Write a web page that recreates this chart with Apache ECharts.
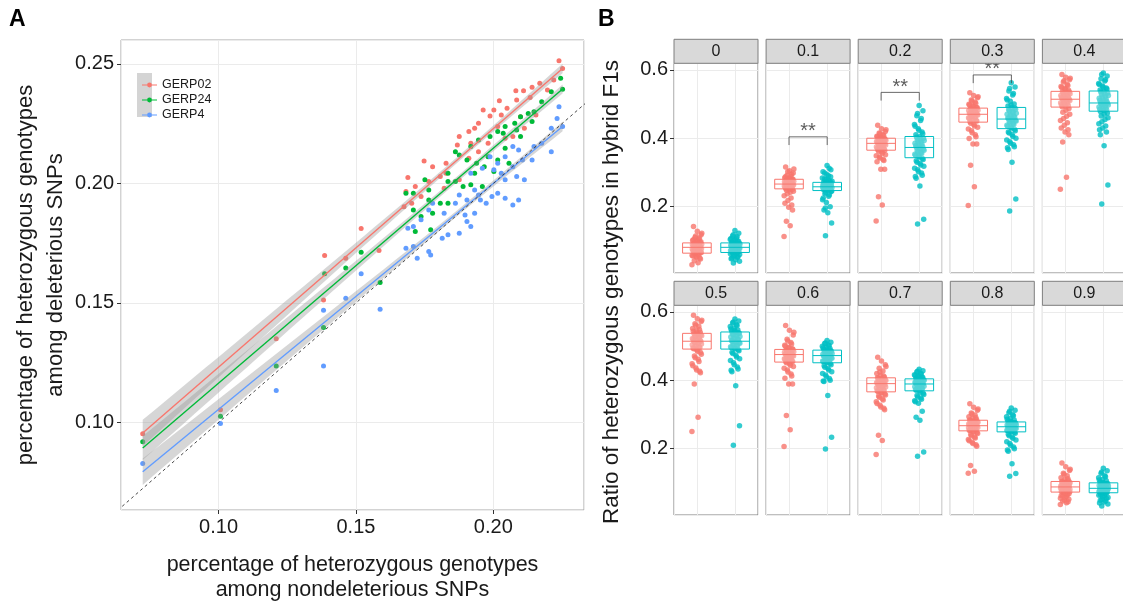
<!DOCTYPE html>
<html><head><meta charset="utf-8">
<script src="https://cdn.jsdelivr.net/npm/echarts@6/dist/echarts.min.js"></script>
<style>html,body{margin:0;padding:0;background:#fff}#c{width:1123px;height:604px}</style>
</head><body><div id="c"></div>
<script>
// ---------- Panel A data ----------
const gerpNames = ['GERP02', 'GERP24', 'GERP4'];
const gerpColors = ['#F8766D', '#00BA38', '#619CFF'];
const gerp02Points = [[0.2239,0.2513],[0.2252,0.2481],[0.2220,0.2433],[0.2169,0.2419],[0.2141,0.2402],[0.2110,0.2388],[0.2082,0.2388],[0.2134,0.2360],[0.2085,0.2349],[0.2022,0.2346],[0.2050,0.2314],[0.2002,0.2307],[0.1963,0.2307],[0.2029,0.2286],[0.1988,0.2282],[0.1946,0.2252],[0.1932,0.2231],[0.1911,0.2217],[0.1876,0.2196],[0.1869,0.2161],[0.1918,0.2168],[0.1981,0.2168],[0.2043,0.2189],[0.2099,0.2279],[0.2155,0.2286],[0.2197,0.2391],[0.1946,0.2133],[0.1911,0.2105],[0.1828,0.2084],[0.1779,0.2070],[0.1748,0.2094],[0.1828,0.2043],[0.1807,0.2029],[0.1765,0.2008],[0.1689,0.2025],[0.1716,0.1987],[0.1682,0.1966],[0.1737,0.1945],[0.1675,0.1903],[0.1703,0.1917],[0.1821,0.1980],[0.1876,0.2015],[0.2016,0.2238],[0.2071,0.2196],[0.2113,0.2231],[0.1519,0.1811],[0.1584,0.1719],[0.1386,0.1699],[0.1463,0.1687],[0.1382,0.1512],[0.1210,0.1350],[0.1007,0.1053],[0.0724,0.0953]];
const gerp24Points = [[0.2245,0.2440],[0.2252,0.2394],[0.2211,0.2384],[0.2176,0.2342],[0.2148,0.2300],[0.2127,0.2293],[0.2099,0.2279],[0.2078,0.2252],[0.2043,0.2238],[0.2016,0.2217],[0.2036,0.2210],[0.1988,0.2196],[0.1946,0.2182],[0.1918,0.2154],[0.1862,0.2133],[0.1876,0.2119],[0.1904,0.2098],[0.1939,0.2084],[0.1981,0.2112],[0.2016,0.2098],[0.2057,0.2084],[0.2099,0.2196],[0.2141,0.2259],[0.2085,0.2224],[0.1835,0.2043],[0.1862,0.2008],[0.1890,0.1987],[0.1918,0.1994],[0.1960,0.1987],[0.1835,0.2008],[0.1751,0.2015],[0.1765,0.1973],[0.1709,0.1959],[0.1682,0.1959],[0.1709,0.1889],[0.1765,0.1931],[0.1807,0.1917],[0.1835,0.1917],[0.1779,0.1875],[0.1772,0.1806],[0.1716,0.1799],[0.1737,0.1862],[0.1932,0.2043],[0.2002,0.2050],[0.2043,0.2147],[0.1967,0.2070],[0.1519,0.1712],[0.1588,0.1586],[0.1463,0.1646],[0.1386,0.1622],[0.1382,0.1397],[0.1210,0.1236],[0.1007,0.1026],[0.0724,0.0920]];
const gerp4Points = [[0.2239,0.2321],[0.2252,0.2238],[0.2232,0.2272],[0.2211,0.2231],[0.2176,0.2168],[0.2148,0.2154],[0.2141,0.2098],[0.2106,0.2098],[0.2092,0.2140],[0.2071,0.2154],[0.2043,0.2112],[0.2016,0.2084],[0.1988,0.2112],[0.2002,0.2057],[0.2029,0.2043],[0.2071,0.2070],[0.2085,0.2029],[0.2113,0.2015],[0.2043,0.2015],[0.2016,0.1959],[0.2043,0.1938],[0.2071,0.1910],[0.2092,0.1931],[0.1995,0.1945],[0.1974,0.1917],[0.1946,0.1952],[0.1932,0.1973],[0.1918,0.2043],[0.1960,0.2064],[0.1904,0.1931],[0.1876,0.1952],[0.1862,0.1917],[0.1932,0.1875],[0.1904,0.1841],[0.1918,0.1820],[0.1876,0.1792],[0.1835,0.1785],[0.1814,0.1771],[0.1821,0.1875],[0.1779,0.1917],[0.1765,0.1889],[0.1737,0.1848],[0.1709,0.1820],[0.1689,0.1813],[0.1682,0.1729],[0.1709,0.1736],[0.1723,0.1687],[0.1765,0.1715],[0.1772,0.1701],[0.1897,0.1868],[0.1953,0.1931],[0.2211,0.2133],[0.1519,0.1622],[0.1463,0.1520],[0.1588,0.1474],[0.1382,0.1470],[0.1382,0.1236],[0.1210,0.1134],[0.1007,0.0996],[0.0724,0.0829]];
// fitted lm lines (value at both ends of x range) and CI half-widths
const fitX = [0.0724, 0.2252];
const gerp02Fit = [0.0956, 0.2481];
const gerp24Fit = [0.0893, 0.2395];
const gerp4Fit = [0.0794, 0.2238];
const fitBandLeft = [0.0055, 0.0050, 0.0055];
const fitBandMin = [0.0012, 0.0012, 0.0012];
const fitBandCenterX = 0.19;
const identityLine = [0.06, 0.24];

// ---------- Panel B data ----------
const facetLabels = ['0','0.1','0.2','0.3','0.4','0.5','0.6','0.7','0.8','0.9'];
const groupColors = ['#F8766D', '#00BFC4'];
const redValues = [
 [0.030,0.036,0.042,0.047,0.052,0.056,0.060,0.063,0.066,0.068,0.070,0.072,0.074,0.076,0.078,0.080,0.082,0.083,0.085,0.086,0.088,0.090,0.091,0.093,0.095,0.098,0.101,0.105,0.110,0.118,0.128,0.142,
  0.050,0.055,0.058,0.061,0.064,0.067,0.069,0.071,0.073,0.075,0.077,0.079,0.081,0.084,0.087,0.089,0.092,0.094,0.097,0.100,0.103,0.108,0.114,0.122],
 [0.113,0.144,0.157,0.190,0.198,0.210,0.225,0.238,0.245,0.250,0.253,0.256,0.258,0.260,0.262,0.264,0.265,0.266,0.268,0.270,0.272,0.274,0.276,0.278,0.279,0.281,0.284,0.288,0.292,0.298,0.305,0.316,
  0.205,0.218,0.232,0.242,0.248,0.251,0.254,0.257,0.259,0.261,0.263,0.265,0.267,0.269,0.271,0.273,0.275,0.277,0.280,0.283,0.287,0.295,0.302,0.310],
 [0.158,0.205,0.229,0.309,0.309,0.331,0.338,0.345,0.352,0.360,0.366,0.369,0.372,0.375,0.378,0.381,0.384,0.386,0.388,0.390,0.392,0.394,0.396,0.398,0.399,0.402,0.406,0.410,0.415,0.420,0.428,0.438,
  0.335,0.342,0.349,0.356,0.362,0.365,0.368,0.371,0.374,0.377,0.380,0.383,0.385,0.387,0.389,0.391,0.393,0.395,0.397,0.401,0.404,0.408,0.413,0.425],
 [0.203,0.258,0.321,0.383,0.383,0.399,0.410,0.422,0.432,0.440,0.448,0.452,0.456,0.460,0.463,0.466,0.469,0.471,0.473,0.476,0.479,0.482,0.485,0.487,0.490,0.494,0.499,0.505,0.512,0.518,0.525,0.533,
  0.404,0.416,0.427,0.436,0.444,0.450,0.454,0.458,0.461,0.465,0.468,0.470,0.472,0.475,0.478,0.481,0.484,0.486,0.489,0.492,0.497,0.502,0.509,0.521],
 [0.251,0.286,0.389,0.410,0.418,0.430,0.445,0.458,0.470,0.482,0.492,0.496,0.500,0.504,0.508,0.511,0.514,0.517,0.520,0.524,0.527,0.530,0.533,0.536,0.540,0.545,0.551,0.557,0.564,0.571,0.578,0.586,
  0.425,0.438,0.452,0.464,0.476,0.487,0.494,0.498,0.502,0.506,0.510,0.513,0.516,0.519,0.522,0.525,0.529,0.532,0.535,0.543,0.548,0.554,0.568,0.575],
 [0.250,0.292,0.389,0.422,0.430,0.442,0.455,0.466,0.476,0.485,0.492,0.496,0.500,0.504,0.508,0.511,0.514,0.517,0.520,0.524,0.527,0.530,0.533,0.536,0.540,0.545,0.551,0.558,0.565,0.572,0.580,0.590,
  0.426,0.436,0.448,0.461,0.471,0.481,0.489,0.494,0.498,0.502,0.506,0.510,0.513,0.516,0.519,0.522,0.526,0.529,0.532,0.538,0.543,0.548,0.561,0.575],
 [0.206,0.255,0.297,0.389,0.389,0.406,0.418,0.430,0.440,0.448,0.454,0.457,0.460,0.463,0.466,0.469,0.472,0.475,0.477,0.479,0.481,0.483,0.486,0.489,0.492,0.496,0.502,0.510,0.520,0.532,0.546,0.560,
  0.412,0.424,0.435,0.444,0.451,0.455,0.459,0.462,0.465,0.468,0.471,0.473,0.476,0.478,0.480,0.482,0.484,0.487,0.490,0.494,0.499,0.506,0.515,0.540],
 [0.183,0.224,0.239,0.314,0.322,0.332,0.342,0.350,0.357,0.363,0.367,0.371,0.375,0.378,0.381,0.384,0.387,0.390,0.392,0.394,0.396,0.399,0.402,0.405,0.409,0.414,0.420,0.427,0.435,0.445,0.456,0.467,
  0.318,0.327,0.337,0.346,0.354,0.360,0.365,0.369,0.373,0.377,0.380,0.383,0.386,0.389,0.391,0.393,0.395,0.398,0.401,0.404,0.407,0.412,0.424,0.440],
 [0.128,0.134,0.151,0.207,0.215,0.223,0.231,0.238,0.244,0.249,0.253,0.256,0.259,0.261,0.263,0.265,0.267,0.269,0.271,0.273,0.275,0.277,0.279,0.282,0.285,0.289,0.293,0.298,0.304,0.312,0.321,0.331,
  0.211,0.219,0.227,0.234,0.241,0.247,0.251,0.254,0.257,0.260,0.262,0.264,0.266,0.268,0.270,0.272,0.274,0.276,0.278,0.281,0.284,0.291,0.301,0.316],
 [0.037,0.042,0.047,0.052,0.057,0.062,0.066,0.070,0.074,0.076,0.078,0.080,0.082,0.084,0.086,0.088,0.090,0.092,0.094,0.096,0.098,0.100,0.102,0.103,0.106,0.110,0.115,0.121,0.128,0.136,0.147,0.158,
  0.045,0.050,0.055,0.060,0.064,0.068,0.072,0.075,0.077,0.079,0.081,0.083,0.085,0.087,0.089,0.091,0.093,0.095,0.097,0.101,0.104,0.112,0.125,0.140]
];
const tealValues = [
 [0.035,0.040,0.045,0.050,0.054,0.058,0.062,0.065,0.067,0.069,0.071,0.073,0.075,0.077,0.079,0.080,0.082,0.083,0.085,0.087,0.088,0.090,0.092,0.093,0.095,0.098,0.101,0.104,0.108,0.114,0.122,0.130,
  0.048,0.052,0.056,0.060,0.063,0.066,0.068,0.070,0.072,0.074,0.076,0.078,0.081,0.084,0.086,0.089,0.091,0.094,0.096,0.099,0.103,0.107,0.112,0.118],
 [0.115,0.152,0.182,0.190,0.200,0.212,0.220,0.230,0.238,0.244,0.248,0.250,0.252,0.254,0.256,0.257,0.258,0.259,0.261,0.263,0.265,0.267,0.269,0.270,0.272,0.275,0.279,0.284,0.290,0.298,0.308,0.320,
  0.225,0.235,0.241,0.246,0.249,0.251,0.253,0.255,0.257,0.259,0.260,0.262,0.264,0.266,0.268,0.271,0.274,0.277,0.281,0.287,0.294,0.302,0.312,0.196],
 [0.149,0.163,0.260,0.283,0.292,0.302,0.312,0.322,0.330,0.338,0.345,0.350,0.355,0.360,0.365,0.370,0.373,0.376,0.380,0.385,0.390,0.395,0.400,0.404,0.410,0.418,0.428,0.440,0.452,0.466,0.480,0.496,
  0.288,0.298,0.308,0.318,0.326,0.334,0.341,0.348,0.353,0.358,0.363,0.368,0.372,0.378,0.383,0.388,0.393,0.398,0.403,0.413,0.423,0.435,0.458,0.472],
 [0.187,0.222,0.330,0.367,0.375,0.385,0.395,0.405,0.415,0.422,0.430,0.435,0.440,0.445,0.450,0.454,0.457,0.461,0.466,0.470,0.475,0.480,0.485,0.489,0.494,0.500,0.508,0.516,0.526,0.538,0.550,0.562,
  0.372,0.381,0.390,0.400,0.410,0.418,0.426,0.432,0.438,0.443,0.448,0.452,0.456,0.459,0.464,0.468,0.473,0.478,0.483,0.488,0.497,0.512,0.531,0.545],
 [0.208,0.263,0.378,0.410,0.418,0.430,0.442,0.455,0.465,0.474,0.481,0.485,0.489,0.493,0.497,0.500,0.503,0.507,0.512,0.517,0.522,0.527,0.532,0.537,0.541,0.547,0.553,0.560,0.567,0.574,0.582,0.591,
  0.425,0.436,0.448,0.460,0.470,0.478,0.483,0.487,0.491,0.495,0.499,0.502,0.505,0.510,0.515,0.520,0.525,0.530,0.535,0.544,0.550,0.557,0.571,0.586],
 [0.210,0.267,0.384,0.425,0.433,0.445,0.458,0.468,0.478,0.486,0.492,0.496,0.500,0.504,0.508,0.511,0.514,0.518,0.522,0.526,0.530,0.534,0.537,0.540,0.543,0.547,0.552,0.557,0.562,0.567,0.573,0.579,
  0.429,0.439,0.451,0.463,0.473,0.482,0.489,0.494,0.498,0.502,0.506,0.510,0.513,0.516,0.520,0.524,0.528,0.532,0.536,0.539,0.545,0.550,0.560,0.570],
 [0.199,0.233,0.355,0.396,0.400,0.410,0.420,0.430,0.438,0.445,0.452,0.455,0.458,0.461,0.464,0.467,0.470,0.472,0.474,0.476,0.479,0.482,0.485,0.487,0.490,0.493,0.496,0.499,0.503,0.507,0.511,0.516,
  0.398,0.405,0.415,0.425,0.434,0.442,0.449,0.453,0.456,0.459,0.462,0.465,0.468,0.471,0.473,0.475,0.478,0.480,0.484,0.486,0.489,0.494,0.501,0.509],
 [0.178,0.190,0.283,0.292,0.309,0.333,0.340,0.348,0.355,0.362,0.370,0.373,0.376,0.379,0.382,0.385,0.388,0.390,0.392,0.394,0.396,0.398,0.401,0.403,0.406,0.409,0.412,0.416,0.420,0.424,0.428,0.432,
  0.337,0.344,0.351,0.358,0.365,0.371,0.375,0.378,0.381,0.384,0.387,0.389,0.391,0.393,0.395,0.397,0.400,0.402,0.405,0.408,0.411,0.414,0.418,0.426],
 [0.119,0.127,0.156,0.192,0.200,0.210,0.220,0.230,0.238,0.245,0.250,0.253,0.255,0.257,0.259,0.261,0.263,0.265,0.267,0.269,0.271,0.273,0.275,0.277,0.280,0.284,0.288,0.293,0.299,0.305,0.312,0.319,
  0.196,0.205,0.215,0.225,0.234,0.242,0.248,0.251,0.254,0.256,0.258,0.260,0.262,0.264,0.266,0.268,0.270,0.272,0.274,0.276,0.279,0.286,0.296,0.309],
 [0.032,0.038,0.044,0.049,0.054,0.059,0.064,0.068,0.072,0.074,0.076,0.078,0.080,0.082,0.083,0.084,0.086,0.088,0.090,0.092,0.094,0.096,0.098,0.099,0.102,0.106,0.110,0.115,0.121,0.128,0.135,0.143,
  0.041,0.047,0.052,0.057,0.062,0.066,0.070,0.073,0.075,0.077,0.079,0.081,0.083,0.085,0.087,0.089,0.091,0.093,0.095,0.097,0.100,0.108,0.118,0.132]
];
// box stats [q1, median, q3]
const boxStatsRed = [[0.064,0.081,0.094],[0.252,0.266,0.280],[0.365,0.385,0.400],[0.447,0.470,0.488],[0.491,0.514,0.537],[0.491,0.514,0.537],[0.453,0.475,0.490],[0.366,0.390,0.407],[0.252,0.267,0.283],[0.073,0.088,0.104]];
const boxStatsTeal = [[0.066,0.081,0.094],[0.247,0.258,0.271],[0.343,0.373,0.405],[0.428,0.456,0.490],[0.479,0.503,0.538],[0.491,0.514,0.541],[0.451,0.472,0.488],[0.369,0.389,0.404],[0.249,0.264,0.278],[0.071,0.084,0.100]];
const sigFacets = [1, 2, 3];
const sigY = [0.404, 0.534, 0.585];
const sigLabel = '**';

// ---------- layout ----------
const FONT = '"Liberation Sans", Arial, Helvetica, sans-serif';
const TXT = '#1a1a1a';
const GRIDC = '#ebebeb';
const facetLeft0 = 674, facetPitch = 92.1, facetW = 84;
const rowTop = [63.3, 305.3], facetH = 209.7, stripH = 24;
const jit = i => ((((i * 0.6180339887) % 1) - 0.5) * 0.26);

const chart = echarts.init(document.getElementById('c'), null, {renderer: 'canvas'});

const grids = [{left: 121, top: 40, width: 463, height: 470, show: true, borderColor: '#a6a6a6', borderWidth: 1, backgroundColor: '#fff', containLabel: false, outerBoundsMode: 'none'}];
const xAxes = [{
  gridIndex: 0, type: 'value', min: 0.0645, max: 0.233, splitNumber: 3,
  axisLine: {show: false}, axisTick: {show: true, length: 4, lineStyle: {color: '#333'}},
  axisLabel: {fontSize: 20, color: TXT, margin: 7, showMinLabel: false, showMaxLabel: false, formatter: v => v.toFixed(2), fontFamily: FONT},
  splitLine: {show: true, lineStyle: {color: GRIDC}},
  name: 'percentage of heterozygous genotypes\namong nondeleterious SNPs', nameLocation: 'middle', nameGap: 43,
  nameTextStyle: {fontSize: 21.5, lineHeight: 25, color: TXT, fontFamily: FONT, verticalAlign: 'top'}
}];
const yAxes = [{
  gridIndex: 0, type: 'value', min: 0.0634, max: 0.260, splitNumber: 4,
  axisLine: {show: false}, axisTick: {show: true, length: 4, lineStyle: {color: '#333'}},
  axisLabel: {fontSize: 20, color: TXT, margin: 7, showMinLabel: false, showMaxLabel: false, formatter: v => v.toFixed(2), fontFamily: FONT},
  splitLine: {show: true, lineStyle: {color: GRIDC}},
  name: 'percentage of heterozygous genotypes\namong deleterious SNPs', nameLocation: 'middle', nameGap: 50, nameRotate: 90,
  nameTextStyle: {fontSize: 22, lineHeight: 30, color: TXT, fontFamily: FONT}
}];
const series = [];
const graphics = [];

// Panel A series
const allPoints = [gerp02Points, gerp24Points, gerp4Points];
const allFits = [gerp02Fit, gerp24Fit, gerp4Fit];
allPoints.forEach((pts, g) => {
  series.push({type: 'scatter', name: gerpNames[g], xAxisIndex: 0, yAxisIndex: 0, data: pts, symbolSize: 5, itemStyle: {color: gerpColors[g], opacity: 1}, z: 2, silent: true});
});
allFits.forEach((fit, g) => {
  const slope = (fit[1] - fit[0]) / (fitX[1] - fitX[0]);
  const hL = fitBandLeft[g], hM = fitBandMin[g];
  const half = x => Math.sqrt(hM * hM + (hL * hL - hM * hM) * Math.pow((x - fitBandCenterX) / (fitX[0] - fitBandCenterX), 2));
  series.push({
    type: 'custom', xAxisIndex: 0, yAxisIndex: 0, z: 3, silent: true,
    data: [[fitX[0], fit[0]]],
    renderItem: (params, api) => {
      const up = [], lo = [];
      const n = 40;
      for (let k = 0; k <= n; k++) {
        const x = fitX[0] + (fitX[1] - fitX[0]) * k / n;
        const y = fit[0] + slope * (x - fitX[0]);
        up.push(api.coord([x, y + half(x)]));
        lo.unshift(api.coord([x, y - half(x)]));
      }
      return {type: 'polygon', shape: {points: up.concat(lo)}, style: {fill: 'rgba(153,153,153,0.4)'}};
    }
  });
  series.push({type: 'line', xAxisIndex: 0, yAxisIndex: 0, data: [[fitX[0], fit[0]], [fitX[1], fit[1]]], showSymbol: false, symbol: 'none',
    lineStyle: {color: gerpColors[g], width: 1.4}, z: 4, silent: true});
});
series.push({type: 'line', xAxisIndex: 0, yAxisIndex: 0, data: [[identityLine[0], identityLine[0]], [identityLine[1], identityLine[1]]],
  symbol: 'none', clip: true, lineStyle: {color: '#333', width: 0.9, type: [3, 3]}, z: 5, silent: true});

// Panel B
facetLabels.forEach((lab, k) => {
  const col = k % 5, row = Math.floor(k / 5);
  const left = facetLeft0 + col * facetPitch, top = rowTop[row];
  const gi = k + 1;
  grids.push({left: left, top: top, width: facetW, height: facetH, show: true, borderColor: '#7f7f7f', borderWidth: 1, backgroundColor: '#fff', containLabel: false, outerBoundsMode: 'none'});
  xAxes.push({gridIndex: gi, type: 'value', min: 0.4, max: 2.6, splitNumber: 2, axisLine: {show: false}, axisTick: {show: false}, axisLabel: {show: false},
    splitLine: {show: true, lineStyle: {color: GRIDC}}});
  yAxes.push({gridIndex: gi, type: 'value', min: 0.006, max: 0.619, splitNumber: 3, axisLine: {show: false},
    axisTick: {show: col === 0, length: 4, lineStyle: {color: '#333'}},
    axisLabel: {show: col === 0, fontSize: 20, color: TXT, margin: 6, showMinLabel: false, showMaxLabel: false, formatter: v => v.toFixed(1), fontFamily: FONT},
    splitLine: {show: true, lineStyle: {color: GRIDC}}});
  [redValues[k], tealValues[k]].forEach((vals, g) => {
    series.push({type: 'scatter', xAxisIndex: gi, yAxisIndex: gi, symbolSize: 5.5, silent: true, z: 2,
      itemStyle: {color: groupColors[g]}, data: vals.map((v, i) => [g + 1 + jit(i + g * 7), v])});
  });
  series.push({type: 'custom', xAxisIndex: gi, yAxisIndex: gi, z: 3, silent: true,
    data: [[1].concat(boxStatsRed[k]), [2].concat(boxStatsTeal[k])],
    renderItem: (params, api) => {
      const x = api.value(0), q1 = api.value(1), md = api.value(2), q3 = api.value(3);
      const a = api.coord([x - 0.375, q3]), b = api.coord([x + 0.375, q1]);
      const m1 = api.coord([x - 0.375, md]), m2 = api.coord([x + 0.375, md]);
      const c = groupColors[params.dataIndex];
      return {type: 'group', children: [
        {type: 'rect', shape: {x: a[0], y: a[1], width: b[0] - a[0], height: b[1] - a[1]}, style: {fill: 'rgba(255,255,255,0.3)', stroke: c, lineWidth: 1}},
        {type: 'line', shape: {x1: m1[0], y1: m1[1], x2: m2[0], y2: m2[1]}, style: {stroke: c, lineWidth: 1}}
      ]};
    }
  });
  const si = sigFacets.indexOf(k);
  if (si >= 0) {
    const y = sigY[si];
    series.push({type: 'line', xAxisIndex: gi, yAxisIndex: gi, symbol: 'none', silent: true, z: 4,
      data: [[1, y - 0.024], [1, y], [2, y], [2, y - 0.024]], lineStyle: {color: '#444', width: 0.8}});
    series.push({type: 'scatter', xAxisIndex: gi, yAxisIndex: gi, symbolSize: 0, silent: true, z: 4,
      data: [[1.5, y]], label: {show: true, position: 'top', distance: -5, formatter: sigLabel, fontSize: 20, color: '#333', fontFamily: FONT}});
  }
  graphics.push({type: 'rect', z: 100, shape: {x: left, y: top - stripH, width: facetW, height: stripH},
    style: {fill: '#d9d9d9', stroke: '#7f7f7f', lineWidth: 1}});
  graphics.push({type: 'text', z: 101, x: left + facetW / 2, y: top - stripH / 2,
    style: {text: lab, fontSize: 16, fontFamily: FONT, fill: TXT, align: 'center', verticalAlign: 'middle'}});
});

// panel labels, B y-title, legend key background
graphics.push({type: 'text', z: 101, x: 9, y: 8, style: {text: 'A', fontSize: 23, fontWeight: 'bold', fontFamily: FONT, fill: '#000'}});
graphics.push({type: 'text', z: 101, x: 598, y: 8, style: {text: 'B', fontSize: 23, fontWeight: 'bold', fontFamily: FONT, fill: '#000'}});
graphics.push({type: 'text', z: 101, x: 612, y: 292, rotation: Math.PI / 2,
  style: {text: 'Ratio of heterozygous genotypes in hybrid F1s', fontSize: 22.5, fontFamily: FONT, fill: TXT, align: 'center', verticalAlign: 'middle'}});
graphics.push({type: 'rect', z: 1, shape: {x: 137, y: 73, width: 15, height: 44}, style: {fill: '#d4d4d4'}});

const legendIcon = 'path://M0,0h0.01v0.01h-0.01z M15,14h-0.01v-0.01h0.01z M0,6.5h15v1h-15z M7.5,4.6a2.4,2.4 0 1,1 0,4.8a2.4,2.4 0 1,1 0,-4.8z';

chart.setOption({
  animation: false,
  textStyle: {fontFamily: FONT},
  grid: grids, xAxis: xAxes, yAxis: yAxes, series: series,
  legend: {show: true, orient: 'vertical', left: 137, top: 73, itemWidth: 15, itemHeight: 14, itemGap: 1, selectedMode: false,
    textStyle: {fontSize: 12.5, color: TXT, fontFamily: FONT, padding: [0, 0, 0, 0]},
    data: gerpNames.map((n, i) => ({name: n, icon: legendIcon, itemStyle: {color: gerpColors[i]}}))},
  graphic: graphics
});
</script></body></html>
